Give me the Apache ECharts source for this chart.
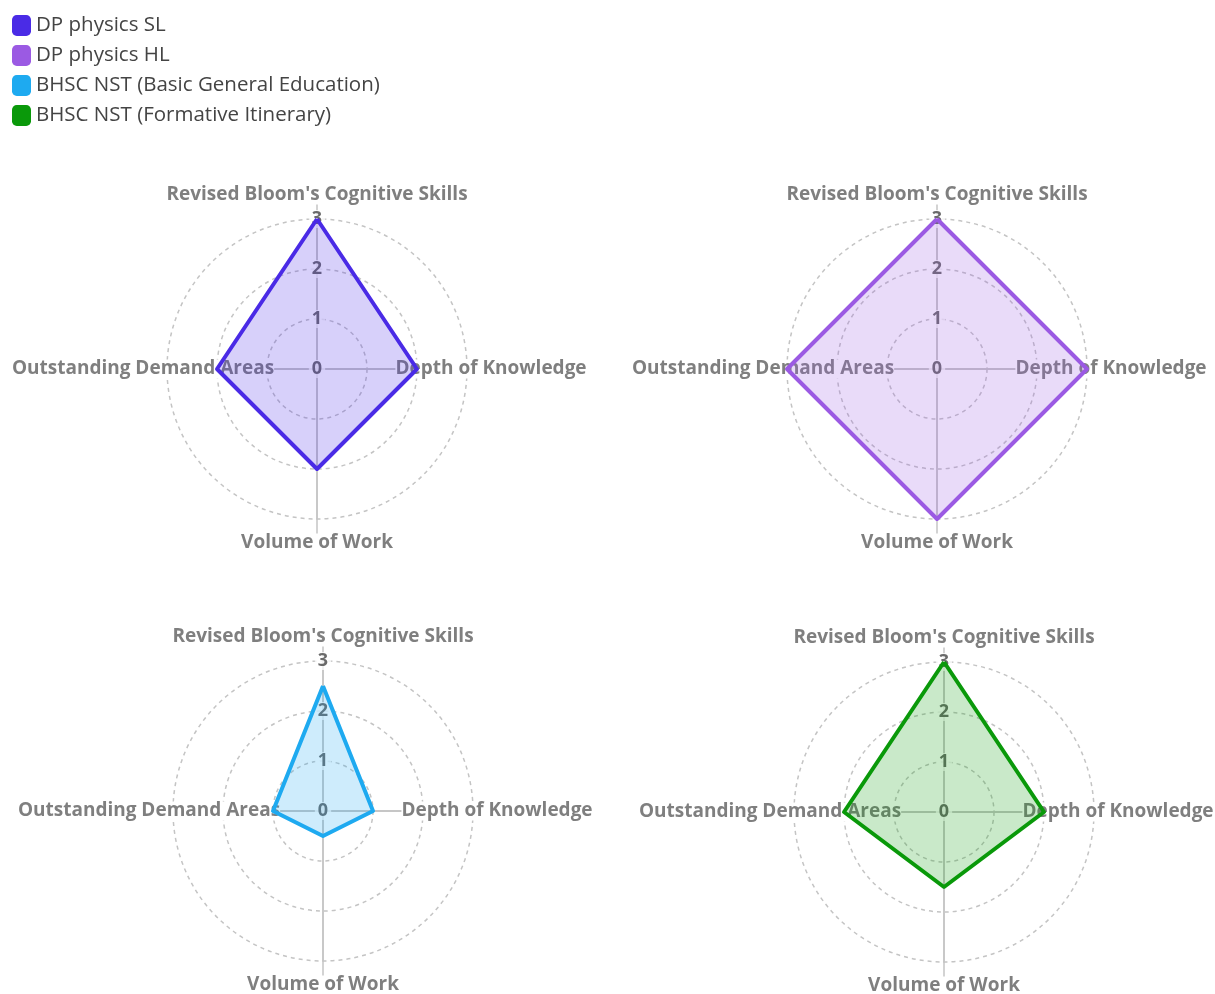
<!DOCTYPE html>
<html>
<head>
<meta charset="utf-8">
<script src="https://cdn.jsdelivr.net/npm/echarts@6/dist/echarts.min.js"></script>
<style>
  html, body { margin: 0; padding: 0; background: #fff; }
  #chart { width: 1215px; height: 994px; }
</style>
</head>
<body>
<div id="chart"></div>
<script>
// indicators, counter-clockwise from the top (ECharts default order)
var indicatorNames = ["Revised Bloom's Cognitive Skills", 'Outstanding Demand Areas', 'Volume of Work', 'Depth of Knowledge'];
var axisMax = 3;
var seriesNames = ['DP physics SL', 'DP physics HL', 'BHSC NST (Basic General Education)', 'BHSC NST (Formative Itinerary)'];
var dpSL = [3, 2, 2, 2];
var dpHL = [3, 3, 3, 3];
var nstBasic = [2.5, 1, 0.5, 1];
var nstFormative = [3, 2, 1.5, 2];
var colors = ['#4a2be6', '#9b5ae3', '#1eaaf0', '#0a990a'];

var values = [dpSL, dpHL, nstBasic, nstFormative];
var centers = [[317, 369], [937, 369], [323, 811], [944, 812]];
var font = 'Open Sans';

var myChart = echarts.init(document.getElementById('chart'));

var radars = [];
var series = [];

centers.forEach(function (c, i) {
  // main radar: circles, names, tick labels
  radars.push({
    center: c,
    radius: 150,
    startAngle: 90,
    splitNumber: 3,
    shape: 'circle',
    z: 1,
    nameGap: 24,
    axisName: {
      color: '#7f7f7f',
      fontFamily: font,
      fontWeight: 'bold',
      fontSize: 19,
      align: 'center',
      verticalAlign: 'middle',
      backgroundColor: '#fff'
    },
    indicator: indicatorNames.map(function (n, k) {
      var ind = { name: n, max: axisMax, min: 0 };
      if (k === 0) {
        ind.axisLabel = { show: true };
      }
      return ind;
    }),
    axisLine: { lineStyle: { color: '#c4c4c4', width: 1.5 } },
    splitLine: { lineStyle: { color: '#c4c4c4', width: 1.5, type: [4, 4] } },
    splitArea: { show: false },
    axisTick: { show: false },
    axisLabel: {
      show: false,
      margin: 0,
      color: '#6a6a6a',
      fontFamily: font,
      fontWeight: 'bold',
      fontSize: 18,
      align: 'center',
      verticalAlign: 'middle',
      backgroundColor: 'rgba(255,255,255,0.75)',
      padding: [0, 3]
    }
  });
  series.push({
    type: 'radar',
    radarIndex: i,
    name: seriesNames[i],
    z: 3,
    symbol: 'none',
    color: colors[i],
    lineStyle: { width: 4, color: colors[i] },
    areaStyle: { color: colors[i], opacity: 0.22 },
    data: [{ name: seriesNames[i], value: values[i] }]
  });
});

// longer spokes drawn under the main radars
centers.forEach(function (c) {
  radars.push({
    center: c,
    radius: 166,
    startAngle: 90,
    splitNumber: 1,
    shape: 'circle',
    z: 0,
    axisName: { show: false },
    indicator: indicatorNames.map(function (n) { return { name: n, max: axisMax, min: 0 }; }),
    axisLine: { lineStyle: { color: '#c4c4c4', width: 1.5 } },
    splitLine: { show: false },
    splitArea: { show: false },
    axisTick: { show: false },
    axisLabel: { show: false }
  });
});

var option = {
  animation: false,
  legend: {
    orient: 'vertical',
    left: 7,
    top: 10,
    icon: 'roundRect',
    itemWidth: 19,
    itemHeight: 21,
    itemGap: 9,
    data: seriesNames,
    textStyle: { color: '#444', fontFamily: font, fontSize: 20.5 }
  },
  radar: radars,
  series: series
};

myChart.setOption(option);
</script>
</body>
</html>
